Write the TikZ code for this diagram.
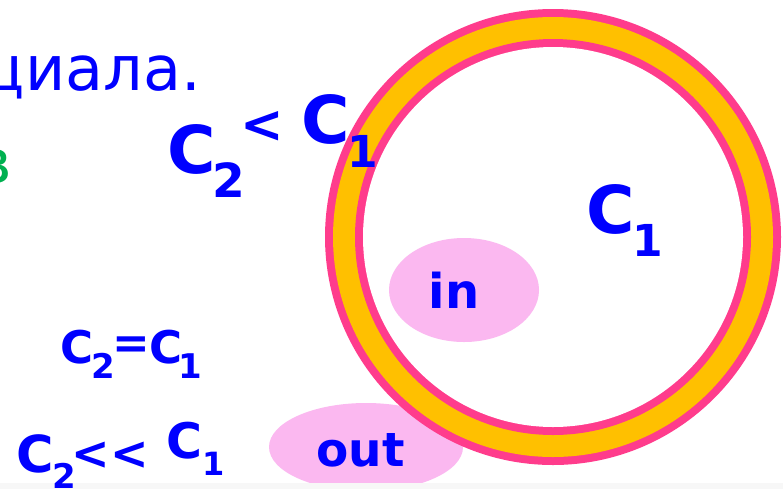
\documentclass[tikz,border=0pt]{standalone}
\usepackage{fontspec}
\setmainfont{DejaVu Sans}
\usetikzlibrary{shapes.geometric}
\definecolor{tblue}{RGB}{0,0,255}
\definecolor{ringpink}{RGB}{255,60,140}
\definecolor{ringgold}{RGB}{255,192,0}
\definecolor{blob}{RGB}{251,184,240}
\definecolor{tgreen}{RGB}{0,176,80}
\definecolor{stripgray}{RGB}{247,247,247}
\begin{document}
\begin{tikzpicture}[x=1pt,y=-1pt,
  bt/.style={text=tblue, inner sep=0pt, anchor=base, font=\fontsize{#1}{#1}\selectfont\bfseries},
  blobst/.style={shape=ellipse, fill=blob, inner sep=0pt}]
\useasboundingbox (0,0) rectangle (783,488);
\clip (0,0) rectangle (783,488);
\fill[white] (0,0) rectangle (783,488);
% out blob (behind the ring)
\node[blobst, minimum width=194pt, minimum height=88pt] (outE) at (366,447) {};
% ring
\coordinate (ringc) at (553,237);
\fill[ringpink] (ringc) circle[radius=228pt];
\fill[ringgold] (ringc) circle[radius=220pt];
\fill[ringpink] (ringc) circle[radius=198pt];
\fill[white] (ringc) circle[radius=190pt];
% in blob
\node[blobst, minimum width=150pt, minimum height=104pt] (inE) at (464,290) {};
% bottom strip
\fill[stripgray] (0,483) rectangle (783,492);
% top text
\node[text=tblue, inner sep=0pt, anchor=base east, font=\fontsize{62}{62}\selectfont] (head) at (201,90) {циала.};
\node[text=tgreen, inner sep=0pt, anchor=base east, font=\fontsize{62}{62}\selectfont] (gv) at (12,183) {в};
% C2 < C1 (top)
\node[bt=66] (a1) at (191.5,173) {C};
\node[bt=47] (a2) at (229,197) {2};
\node[bt=52, anchor=center] (a3) at (262.5,126.5) {<};
\node[bt=66] (a4) at (326,143) {C};
\node[bt=44] (a5) at (362.5,167) {1};
% C1 inside ring
\node[bt=66] (b1) at (611,233) {C};
\node[bt=44] (b2) at (648,256) {1};
% in / out
\node[bt=48] (inT) at (454,308) {in};
\node[bt=47] (outT) at (360.5,466) {out};
% C2=C1
\node[bt=45] (c1) at (77.5,363) {C};
\node[bt=34] (c2) at (103.5,378) {2};
\node[bt=45, anchor=center] (c3) at (131,347.5) {=};
\node[bt=45] (c4) at (166,363) {C};
\node[bt=34] (c5) at (190.5,378) {1};
% C2 << C1
\node[bt=51] (d1) at (35,472) {C};
\node[bt=34] (d2) at (64,488) {2};
\node[bt=46, anchor=center] (d3) at (110.5,456) {{<}{<}};
\node[bt=49] (d4) at (184,458) {C};
\node[bt=32] (d5) at (213.5,475) {1};
\end{tikzpicture}
\end{document}
